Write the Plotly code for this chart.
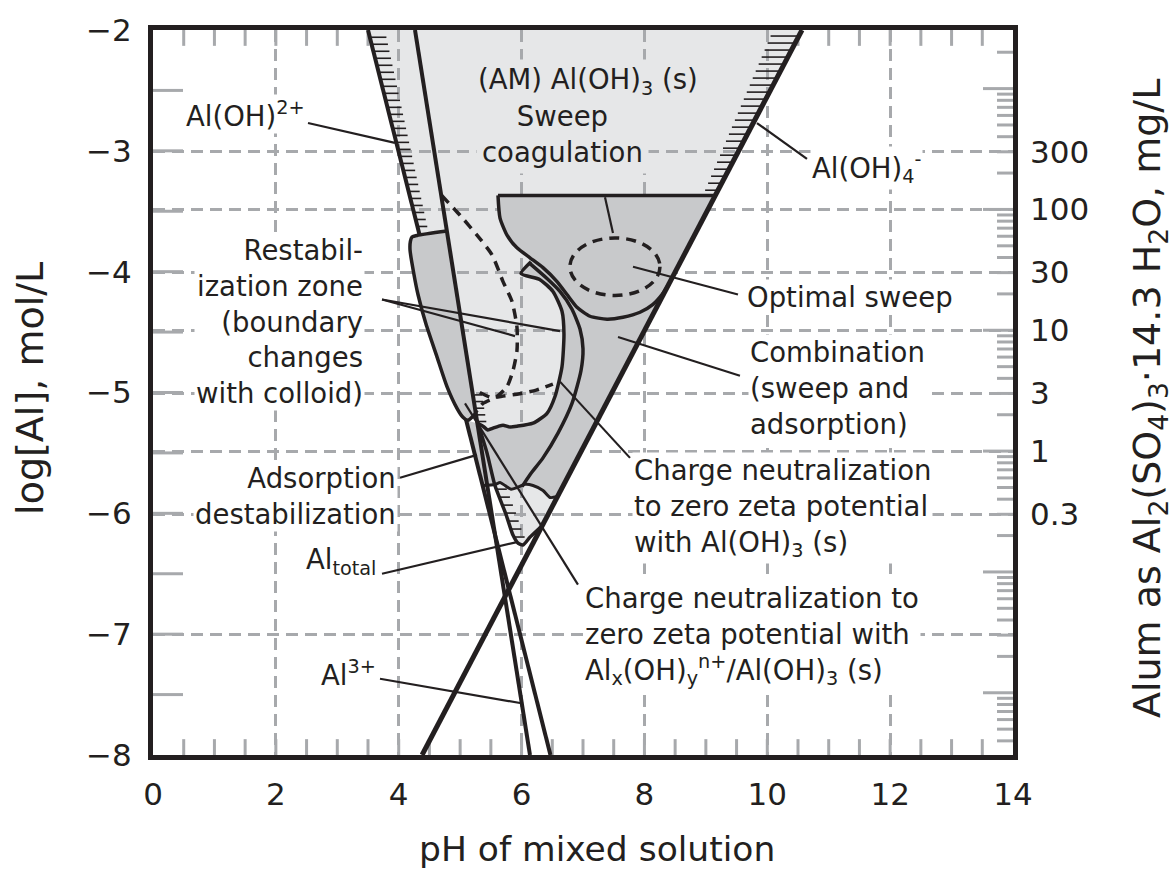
import numpy as np
import plotly.graph_objects as go

INK = "#231f20"
GRID = "#a7a9ac"
LIGHT = "#e6e7e8"
DARK = "#c8c9cb"
FONT = "DejaVu Sans"

# ---- axes -------------------------------------------------------------
x_ticks = [0, 2, 4, 6, 8, 10, 12, 14]
y_ticks = [-2, -3, -4, -5, -6, -7, -8]
alum_labels = [0.3, 1, 3, 10, 30, 100, 300]
alum_label_text = ["0.3", "1", "3", "10", "30", "100", "300"]
ALUM_LOG_SHIFT = -5.485         # log10(mol Al per L) for 1 mg/L of alum
PH_RANGE = [0, 14]
LOG_RANGE = [-8, -2]
EXTRA_GRID_LOG = [-7.0]         # grid row below the alum labels

# ---- straight species lines (pH, log[Al]) ------------------------------
al3_ph, al3_log = [4.265, 6.137], [-2.0, -8.0]
aloh2_ph, aloh2_log = [3.50, 6.47], [-2.0, -8.0]
aloh4_ph, aloh4_log = [10.565, 4.38], [-2.0, -8.0]

# ---- Al_total curve around the solubility minimum -----------------------
altot_ph = [5.274, 5.437, 5.567, 5.746, 5.860, 5.942, 6.023, 6.137, 6.339]
altot_log = [-5.230, -5.500, -5.770, -6.008, -6.180, -6.246, -6.262, -6.197, -6.100]

# ---- charge-neutralisation block with Al_x(OH)_y^n+ ---------------------
blk_ph = [4.786, 4.30, 4.216, 4.19, 4.184, 4.249, 4.314, 4.444, 4.623,
          4.786, 4.949, 5.046, 5.128, 5.255]
blk_log = [-3.664, -3.700, -3.713, -3.75, -3.820, -4.025, -4.189, -4.434,
           -4.705, -4.951, -5.131, -5.205, -5.230, -5.172]

# ---- sweep / combination zone ------------------------------------------
sweep_top_ph, sweep_top_log = [5.616, 9.154], [-3.369, -3.369]
s_curve_ph = [5.616, 5.649, 5.763, 5.925, 6.137, 6.349, 6.577, 6.739, 6.902,
              7.114, 7.391, 7.651, 7.928, 8.139, 8.286, 8.411]
s_curve_log = [-3.369, -3.557, -3.697, -3.803, -3.885, -3.967, -4.082, -4.189,
               -4.295, -4.369, -4.393, -4.377, -4.336, -4.270, -4.189, -4.090]

# restabilisation zone edge: hook, inner charge-neutralisation edge, wavy bottom
restab_ph = [6.153, 5.991, 6.300, 6.511, 6.658, 6.690, 6.658, 6.544, 6.414,
             6.186, 5.925, 5.81, 5.698, 5.62, 5.535, 5.45, 5.372, 5.274]
restab_log = [-3.918, -4.016, -4.066, -4.164, -4.328, -4.516, -4.787, -5.033,
              -5.172, -5.254, -5.279, -5.285, -5.270, -5.28, -5.295, -5.31,
              -5.279, -5.254]

# outer edge of the charge-neutralisation band with Al(OH)3(s)
band_ph = [6.137, 6.414, 6.625, 6.821, 6.951, 7.000, 6.967, 6.821, 6.593,
           6.349, 6.137, 6.007]
band_log = [-3.934, -4.057, -4.164, -4.311, -4.475, -4.639, -4.820, -5.090,
            -5.336, -5.541, -5.680, -5.779]

# lower edge of the adsorption-destabilisation zone
vtop_ph = [5.366, 5.567, 5.650, 5.730, 5.830, 5.925, 6.060, 6.186, 6.349, 6.463, 6.585]
vtop_log = [-5.770, -5.762, -5.745, -5.770, -5.800, -5.787, -5.760, -5.770,
            -5.811, -5.869, -5.861]

# restabilisation boundaries (depend on colloid)
restab_dash1_ph = [4.70, 4.998, 5.274, 5.519, 5.698, 5.844, 5.925, 5.925,
                   5.860, 5.763, 5.600, 5.372, 5.242]
restab_dash1_log = [-3.37, -3.533, -3.697, -3.861, -4.082, -4.246, -4.459,
                    -4.656, -4.820, -4.951, -5.033, -5.090, -5.172]
restab_dash2_ph = [5.32, 5.50, 5.70, 5.97, 6.24, 6.51]
restab_dash2_log = [-5.00, -5.04, -5.03, -5.01, -4.98, -4.93]

# optimal sweep ellipse
opt_center = (7.52, -3.959)
opt_radius = (0.733, 0.238)


def on_line(ph, lg, level):
    """pH of a straight line at a given log[Al]."""
    return ph[0] + (ph[1] - ph[0]) * (level - lg[0]) / (lg[1] - lg[0])


fig = go.Figure()


def add_fill(ph, lg, color):
    fig.add_trace(go.Scatter(x=ph, y=lg, mode="lines", fill="toself",
                             fillcolor=color, line=dict(width=0),
                             hoverinfo="skip", showlegend=False))


def add_line(ph, lg, width=3.5, dash=None, spline=False, color=INK):
    fig.add_trace(go.Scatter(
        x=ph, y=lg, mode="lines", hoverinfo="skip", showlegend=False,
        line=dict(color=color, width=width, dash=dash,
                  shape="spline" if spline else "linear", smoothing=0.6)))


def add_segments(segs, width=1.6):
    xs, ys = [], []
    for (xa, ya), (xb, yb) in segs:
        xs += [xa, xb, None]
        ys += [ya, yb, None]
    fig.add_trace(go.Scatter(x=xs, y=ys, mode="lines", hoverinfo="skip",
                             showlegend=False,
                             line=dict(color=INK, width=width)))


# ---- light amorphous-Al(OH)3 region: a shape under the dashed grid ----------
light_ph = ([aloh2_ph[0], aloh4_ph[0]] + altot_ph[::-1]
            + [on_line(al3_ph, al3_log, -5.172), on_line(al3_ph, al3_log, -3.664),
               on_line(aloh2_ph, aloh2_log, -3.697)])
light_log = ([-2.0, -2.0] + altot_log[::-1] + [-5.172, -3.664, -3.697])
light_path = "M " + " L ".join(f"{p:.4f},{q:.4f}" for p, q in zip(light_ph, light_log)) + " Z"

shapes = [dict(type="path", path=light_path, xref="x", yref="y",
               fillcolor=LIGHT, line=dict(width=0), layer="below")]

# inner edge ticks of the frame
TICK_GREY = dict(color=GRID, width=3)
for v in np.arange(0.5, 14, 0.5):
    shapes.append(dict(type="line", xref="x", yref="paper", x0=v, x1=v,
                       y0=0, y1=16 / 732, line=TICK_GREY, layer="below"))
    shapes.append(dict(type="line", xref="x", yref="paper", x0=v, x1=v,
                       y0=1, y1=1 - 16 / 732, line=TICK_GREY, layer="below"))
for v in np.arange(-7.5, -2, 0.5):
    shapes.append(dict(type="line", xref="paper", yref="y", x0=0, x1=30 / 860,
                       y0=v, y1=v, line=TICK_GREY, layer="below"))
# alum dose scale on the right edge (log spaced)
y2_lo, y2_hi = LOG_RANGE[0] - ALUM_LOG_SHIFT, LOG_RANGE[1] - ALUM_LOG_SHIFT
for decade in [0.001, 0.01, 0.1, 1, 10, 100, 1000]:
    for m in range(1, 10):
        lv = np.log10(decade * m)
        if not (y2_lo + 0.02 < lv < y2_hi - 0.02):
            continue
        length = 30 if m == 1 else 16
        shapes.append(dict(type="line", xref="paper", yref="y2", x0=1,
                           x1=1 - length / 860, y0=lv, y1=lv,
                           line=TICK_GREY, layer="below"))

# ---- dark zones ------------------------------------------------------------
d1_ph = ([sweep_top_ph[0], sweep_top_ph[1]] + vtop_ph[::-1]
         + [on_line(aloh2_ph, aloh2_log, -5.230)] + restab_ph[::-1]
         + s_curve_ph[4::-1])
d1_log = ([sweep_top_log[0], sweep_top_log[1]] + vtop_log[::-1]
          + [-5.230] + restab_log[::-1] + s_curve_log[4::-1])
add_fill(d1_ph, d1_log, DARK)

# species lines hidden behind the left block
add_line(aloh2_ph, aloh2_log, width=4)

add_fill(blk_ph, blk_log, DARK)
add_line(blk_ph, blk_log, width=3.5, spline=True)

add_line(al3_ph, al3_log, width=4)
add_line(aloh4_ph, aloh4_log, width=5)

# zone boundaries
add_line(sweep_top_ph, sweep_top_log, width=3.5)
add_line(s_curve_ph, s_curve_log, width=3.5, spline=True)
add_line(restab_ph, restab_log, width=3.5, spline=True)
add_line(band_ph, band_log, width=3.5, spline=True)
add_line(vtop_ph, vtop_log, width=3, spline=True)
add_line(altot_ph, altot_log, width=3.5, spline=True)
add_line(restab_dash1_ph, restab_dash1_log, width=3.5, dash="10px,7px", spline=True)
add_line(restab_dash2_ph, restab_dash2_log, width=3.5, dash="10px,7px", spline=True)

shapes.append(dict(type="circle", xref="x", yref="y",
                   x0=opt_center[0] - opt_radius[0], x1=opt_center[0] + opt_radius[0],
                   y0=opt_center[1] - opt_radius[1], y1=opt_center[1] + opt_radius[1],
                   line=dict(color=INK, width=3.5, dash="10px,7px"), layer="above"))

# ---- hatching on the solubility boundary --------------------------------------
hatch = []
for i, lv in enumerate(np.arange(-2.06, -3.64, -0.058)):
    p = on_line(aloh2_ph, aloh2_log, lv)
    ln = 0.27 - 0.11 * i / 27
    hatch.append(((p, lv), (p + ln, lv)))
for i, lv in enumerate(np.arange(-2.05, -3.33, -0.058)):
    p = on_line(aloh4_ph, aloh4_log, lv)
    ln = 0.46 - 0.25 * i / 22
    hatch.append(((p - ln, lv), (p, lv)))
for lv in np.arange(-5.80, -6.22, -0.066):
    p = np.interp(-lv, [-v for v in altot_log[:6]], altot_ph[:6])
    hatch.append(((p, lv), (p + 0.17, lv)))
for lv in np.arange(-5.02, -5.24, -0.055):
    p = on_line(al3_ph, al3_log, lv)
    hatch.append(((p + 0.03, lv), (p + 0.15, lv)))
add_segments(hatch, width=1.6)

# ---- leader lines ---------------------------------------------------------
leaders = [
    ((2.523, -2.770), (3.939, -2.934)),   # Al(OH)2+
    ((9.832, -2.770), (10.646, -3.066)),  # Al(OH)4-
    ((3.728, -4.230), (5.893, -4.533)),   # restabilisation
    ((3.728, -4.230), (6.625, -4.492)),
    ((7.358, -3.385), (7.488, -3.680)),   # optimal sweep inner
    ((7.814, -3.959), (9.523, -4.189)),   # optimal sweep
    ((7.570, -4.541), (9.555, -4.861)),   # combination
    ((6.625, -4.910), (7.765, -5.541)),   # CN with Al(OH)3
    ((5.079, -5.090), (6.918, -6.590)),   # CN with Alx(OH)y
    ((4.021, -5.705), (5.274, -5.516)),   # adsorption
    ((3.728, -6.500), (5.925, -6.238)),   # Al_total
    ((3.695, -7.369), (6.023, -7.574)),   # Al3+
]
add_segments(leaders, width=2.2)

# placeholder trace so the alum axis is drawn
fig.add_trace(go.Scatter(x=[None], y=[None], yaxis="y2", showlegend=False,
                         hoverinfo="skip"))

# ---- labels -------------------------------------------------------------------
ANN = 27.5
labels = [
    (6.674, -2.862, "Sweep<br>coagulation", "center", "center", LIGHT, 5),
    (7.08, -2.426, "(AM) Al(OH)<sub>3</sub> (s)", "center", "center", LIGHT, 3),
    (1.498, -2.697, "Al(OH)<sup>2+</sup>", "center", "center", "white", 1),
    (10.695, -3.139, "Al(OH)<sub>4</sub><sup>-</sup>", "left", "left", "white", 1),
    (3.451, -4.41, "Restabil-<br>ization zone<br>(boundary<br>changes<br>with colloid)",
     "right", "right", "white", 1),
    (9.637, -4.213, "Optimal sweep", "left", "left", "white", 1),
    (9.686, -4.96, "Combination<br>(sweep and<br>adsorption)", "left", "left", "white", 1),
    (3.988, -5.86, "Adsorption<br>destabilization", "right", "right", "white", 1),
    (7.797, -5.959, "Charge neutralization<br>to zero zeta potential<br>with Al(OH)<sub>3</sub> (s)",
     "left", "left", "white", 1),
    (7.00, -7.016, "Charge neutralization to<br>zero zeta potential with<br>"
     "Al<sub>x</sub>(OH)<sub>y</sub><sup>n+</sup>/Al(OH)<sub>3</sub> (s)", "left", "left", "white", 1),
    (3.663, -6.402, "Al<sub>total</sub>", "right", "right", "white", 1),
    (3.663, -7.32, "Al<sup>3+</sup>", "right", "right", "white", 1),
]
annotations = []
for x, y, text, xa, al, bg, pad in labels:
    annotations.append(dict(x=x, y=y, xref="x", yref="y", text=text, showarrow=False,
                            xanchor=xa, yanchor="middle", align=al, bgcolor=bg,
                            borderpad=pad, font=dict(family=FONT, size=ANN, color=INK)))

TITLE = 34.5
annotations += [
    dict(x=0.516, y=-0.130, xref="paper", yref="paper", text="pH of mixed solution",
         showarrow=False, xanchor="center", yanchor="middle",
         font=dict(family=FONT, size=TITLE, color=INK)),
    dict(x=-0.143, y=0.505, xref="paper", yref="paper", text="log[Al], mol/L",
         showarrow=False, textangle=-90, xanchor="center", yanchor="middle",
         font=dict(family=FONT, size=38, color=INK)),
    dict(x=1.159, y=0.492, xref="paper", yref="paper",
         text="Alum as Al<sub>2</sub>(SO<sub>4</sub>)<sub>3</sub>\u00b714.3 H<sub>2</sub>O, mg/L",
         showarrow=False, textangle=-90, xanchor="center", yanchor="middle",
         font=dict(family=FONT, size=38, color=INK)),
]

# the alum axis also carries the dashed grid rows; the -7 row has no label
grid_vals = [float(np.log10(v)) for v in alum_labels] + [g - ALUM_LOG_SHIFT for g in EXTRA_GRID_LOG]
grid_text = alum_label_text + [""] * len(EXTRA_GRID_LOG)

TICKFONT = dict(family=FONT, size=31, color=INK)
fig.update_layout(
    width=1173, height=884,
    margin=dict(l=153, r=160, t=23, b=129),
    paper_bgcolor="white", plot_bgcolor="white",
    showlegend=False,
    xaxis=dict(range=PH_RANGE, tickvals=x_ticks, ticks="", showgrid=True,
               gridcolor=GRID, gridwidth=3, griddash="12px,7px", zeroline=False,
               showline=True, mirror=True, linecolor=INK, linewidth=5,
               tickfont=TICKFONT, ticklabelstandoff=8),
    yaxis=dict(range=LOG_RANGE, tickvals=y_ticks, ticks="", showgrid=False,
               zeroline=False, showline=True, mirror=True, linecolor=INK,
               linewidth=5, tickfont=TICKFONT, ticklabelstandoff=10),
    yaxis2=dict(overlaying="y", side="right", range=[y2_lo, y2_hi],
                tickvals=grid_vals, ticktext=grid_text, ticks="", showgrid=True,
                gridcolor=GRID, gridwidth=3, griddash="12px,7px", zeroline=False,
                showline=False, tickfont=TICKFONT, ticklabelstandoff=16),
    shapes=shapes,
    annotations=annotations,
)

fig.write_html("out.html")
